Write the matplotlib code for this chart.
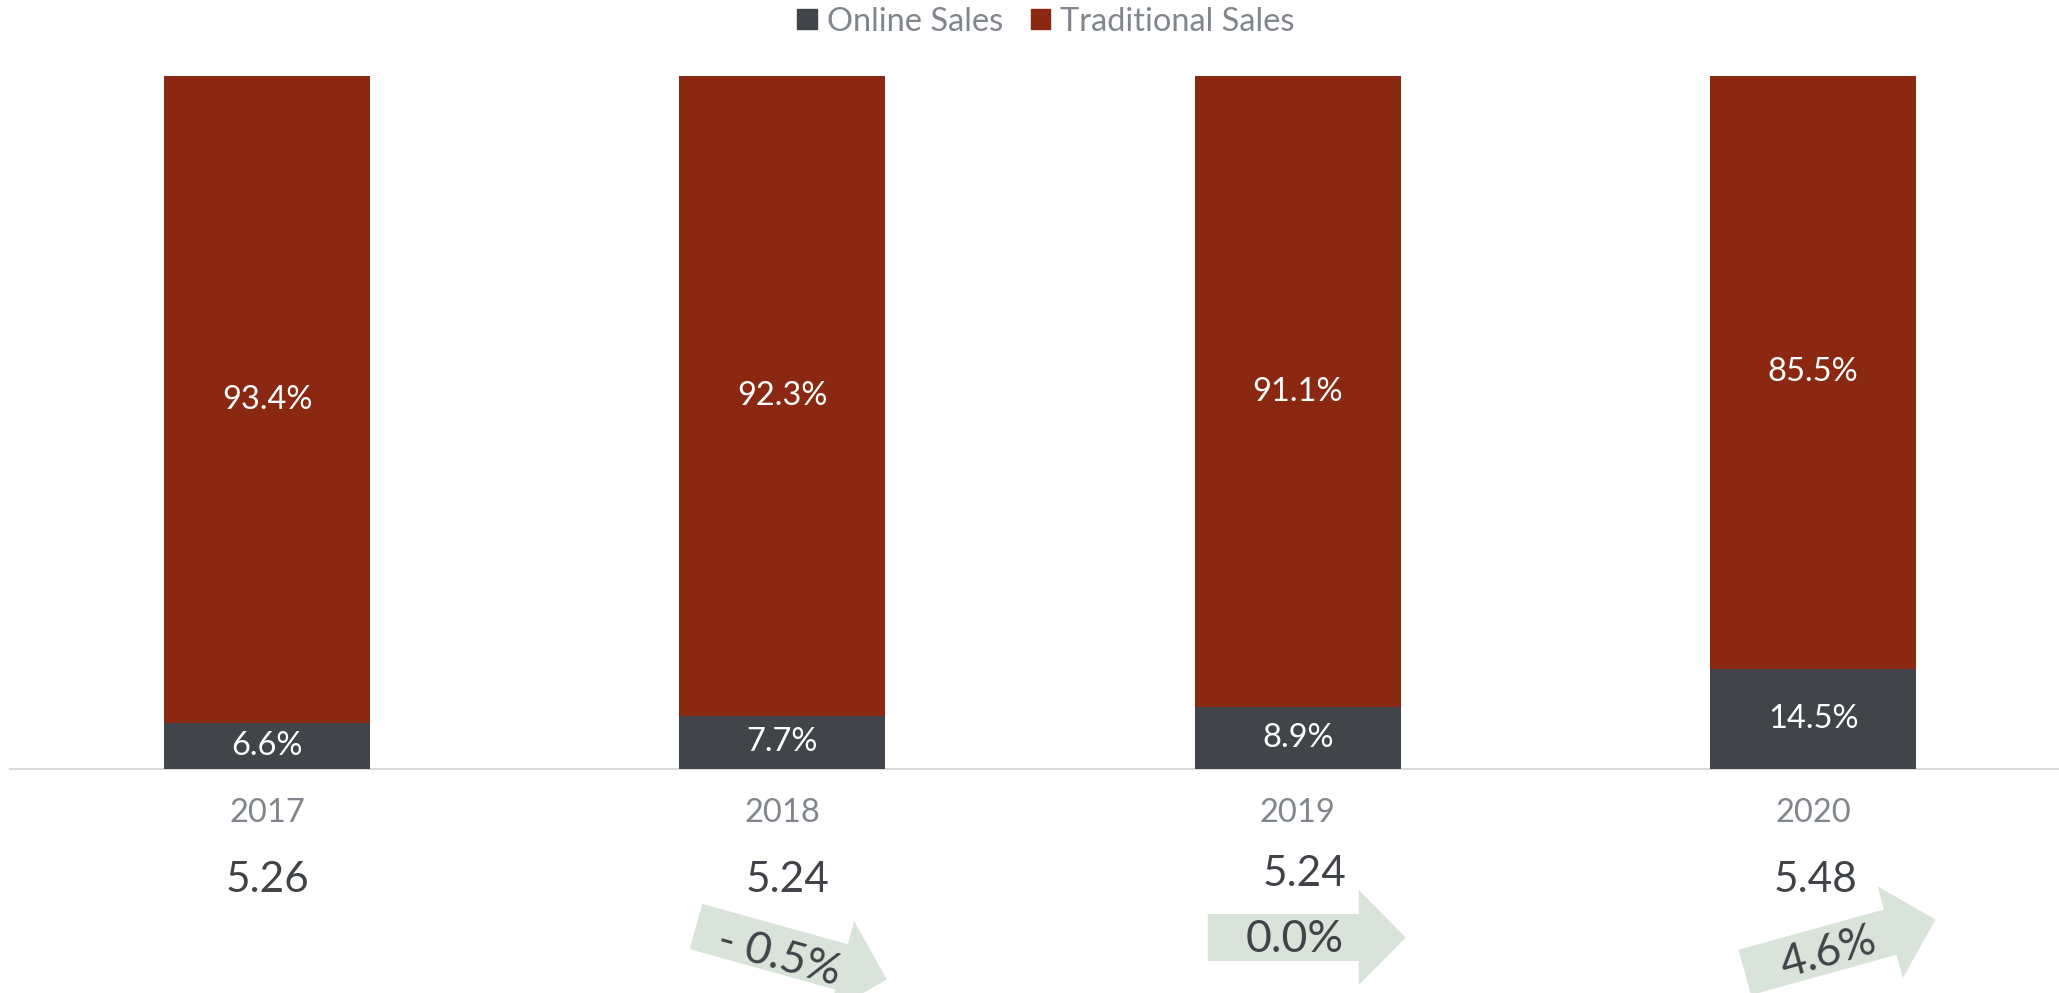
import matplotlib
matplotlib.use('Agg')
import matplotlib.pyplot as plt
import matplotlib.transforms as mtransforms
from matplotlib.patches import Polygon, Patch

plt.rcParams['font.family'] = ['Lato', 'DejaVu Sans']

years = ['2017', '2018', '2019', '2020']
online = [6.6, 7.7, 8.9, 14.5]
traditional = [93.4, 92.3, 91.1, 85.5]
totals = [5.26, 5.24, 5.24, 5.48]
change = [None, -0.5, 0.0, 4.6]

c_online = '#414549'
c_trad = '#8a2811'
c_arrow = '#d8e3da'
c_dark = '#404448'
c_gray = '#80868c'

W, H = 2059, 993
fig = plt.figure(figsize=(W / 100, H / 100), dpi=100)
ax = fig.add_axes([10 / W, 224 / H, (W - 10) / W, (917 - 224) / H])

x = range(len(years))
ax.bar(x, online, width=0.40, color=c_online, label='Online Sales', zorder=3)
ax.bar(x, traditional, width=0.40, bottom=online, color=c_trad,
       label='Traditional Sales', zorder=3)

ax.set_xlim(-0.4987, 3.477)
ax.set_ylim(0, 100)
ax.set_yticks([])
ax.set_xticks([])
for s in ['top', 'right', 'left']:
    ax.spines[s].set_visible(False)
ax.spines['bottom'].set_color('#d9d9d9')
ax.spines['bottom'].set_linewidth(1.5)

# segment labels
for i in x:
    ax.text(i, online[i] / 2, f'{online[i]:.1f}%', ha='center', va='center',
            color='white', fontsize=23.5, zorder=4)
    ax.text(i, online[i] + traditional[i] / 2, f'{traditional[i]:.1f}%',
            ha='center', va='center', color='white', fontsize=23.5, zorder=4)

# year labels + totals below axis
tot_nudge = [(0, 0), (5, 0), (7, 6), (2, 0)]
for i in x:
    ax.annotate(years[i], xy=(i, 0), xytext=(0, -53), textcoords='offset pixels',
                ha='center', va='baseline', fontsize=23.5, color=c_gray,
                annotation_clip=False)
    ax.annotate(f'{totals[i]:.2f}', xy=(i, 0),
                xytext=(tot_nudge[i][0], -123 + tot_nudge[i][1]),
                textcoords='offset pixels', ha='center', va='baseline',
                fontsize=30.5, color=c_dark, annotation_clip=False)

# growth arrows
L, bw, hw, hl = 198, 23.5, 47.5, 47
verts = [(-L / 2, -bw), (L / 2 - hl, -bw), (L / 2 - hl, -hw), (L / 2, 0),
         (L / 2 - hl, hw), (L / 2 - hl, bw), (-L / 2, bw)]
arrow_off = {1: (9, -184), 2: (9, -168.5), 3: (27, -177)}
text_off = {1: (-3, -188), 2: (-3, -170), 3: (15, -184)}
for i in x:
    if change[i] is None:
        continue
    ang = 0 if change[i] == 0 else (15.5 if change[i] > 0 else -15.5)
    dx, dy = arrow_off[i]
    tr = (mtransforms.Affine2D().rotate_deg(ang).translate(dx, dy)
          + mtransforms.ScaledTranslation(i, 0, ax.transData))
    ax.add_patch(Polygon(verts, closed=True, facecolor=c_arrow, edgecolor='none',
                         transform=tr, clip_on=False))
    lab = f'- {abs(change[i]):.1f}%' if change[i] < 0 else f'{change[i]:.1f}%'
    tx, ty = text_off[i]
    ax.annotate(lab, xy=(i, 0), xytext=(tx, ty), textcoords='offset pixels',
                ha='center', va='center', rotation=ang, rotation_mode='anchor',
                fontsize=32, color=c_dark, annotation_clip=False)

handles = [Patch(color=c_online, label='Online Sales'),
           Patch(color=c_trad, label='Traditional Sales')]
fig.legend(handles=handles, loc='upper center', bbox_to_anchor=(0.508, 1.023),
           ncol=2, frameon=False, fontsize=23.5, labelcolor=c_gray,
           handlelength=0.6, handleheight=0.6, handletextpad=0.3,
           columnspacing=0.85)

fig.savefig('out.png', dpi=100)
